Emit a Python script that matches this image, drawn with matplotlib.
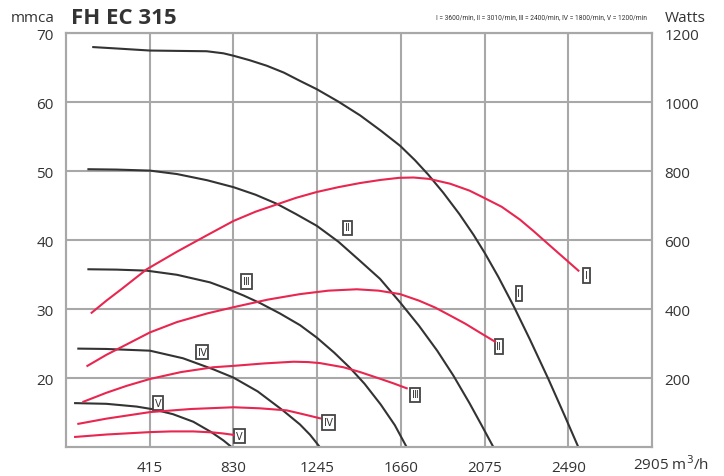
import matplotlib.pyplot as plt

plt.rcParams['font.family'] = ['Open Sans', 'DejaVu Sans']

# pressure curves (mmca) vs flow (m3/h)
p1_x = [135, 250, 416, 550, 697, 780, 830, 910, 995, 1080, 1160, 1243, 1350, 1458, 1560,
        1656, 1730, 1796, 1870, 1950, 2020, 2077, 2143, 2220, 2300, 2391, 2470, 2540]
p1_y = [68.0, 67.8, 67.5, 67.45, 67.4, 67.1, 66.75, 66.1, 65.3, 64.3, 63.1, 61.9, 60.1, 58.1, 55.9,
        53.7, 51.6, 49.5, 46.9, 43.8, 40.8, 38.1, 34.7, 30.4, 25.6, 19.9, 14.7, 10.0]
p2_x = [111, 250, 416, 550, 700, 830, 940, 1044, 1140, 1243, 1350, 1458, 1557, 1656, 1750,
        1840, 1920, 2000, 2060, 2119]
p2_y = [50.3, 50.25, 50.1, 49.6, 48.7, 47.7, 46.6, 45.3, 43.8, 42.1, 39.8, 37.0, 34.4, 31.0, 27.6,
        24.0, 20.4, 16.4, 13.2, 10.0]
p3_x = [111, 250, 400, 550, 714, 797, 880, 962, 1060, 1160, 1243, 1330, 1408, 1480, 1560, 1630, 1689]
p3_y = [35.8, 35.75, 35.6, 35.0, 33.9, 33.0, 32.0, 30.9, 29.4, 27.7, 25.9, 23.7, 21.5, 19.2, 16.2, 13.2, 10.0]
p4_x = [61, 200, 416, 580, 730, 830, 950, 1077, 1160, 1210, 1259]
p4_y = [24.3, 24.25, 24.0, 22.9, 21.3, 20.1, 18.1, 15.3, 13.3, 11.8, 10.0]
p5_x = [45, 200, 350, 433, 530, 631, 720, 780, 822]
p5_y = [16.4, 16.3, 15.9, 15.5, 14.8, 13.7, 12.2, 11.0, 10.0]

# power curves (Watts)
w1_x = [127, 200, 276, 400, 550, 700, 830, 940, 1045, 1140, 1243, 1350, 1458, 1560, 1650,
        1722, 1800, 1904, 2000, 2069, 2160, 2250, 2317, 2400, 2470, 2540]
w1_y = [390, 425, 459, 516, 567, 615, 656, 683, 704, 723, 740, 754, 766, 775, 781,
        782, 778, 764, 744, 724, 697, 660, 627, 584, 548, 512]
w2_x = [106, 200, 300, 416, 550, 700, 830, 1000, 1160, 1300, 1441, 1550, 1656, 1750, 1830,
        1904, 1980, 2050, 2127]
w2_y = [236, 268, 298, 333, 363, 388, 406, 428, 444, 454, 458, 454, 444, 425, 405,
        382, 358, 333, 306]
w3_x = [86, 200, 300, 416, 570, 730, 830, 980, 1127, 1200, 1259, 1375, 1458, 1540, 1620, 1689]
w3_y = [132, 158, 178, 198, 218, 232, 236, 243, 248, 247, 244, 232, 218, 202, 186, 171]
w4_x = [61, 200, 416, 620, 830, 960, 1094, 1160, 1210, 1259]
w4_y = [68, 83, 102, 111, 116, 113, 107, 98, 91, 84]
w5_x = [45, 200, 416, 520, 631, 730, 780, 830]
w5_y = [30, 37, 44, 46, 46, 43, 40, 36]

pressure = [(p1_x, p1_y), (p2_x, p2_y), (p3_x, p3_y), (p4_x, p4_y), (p5_x, p5_y)]
power = [(w1_x, w1_y), (w2_x, w2_y), (w3_x, w3_y), (w4_x, w4_y), (w5_x, w5_y)]

# speed labels
roman = ['Ⅰ', 'Ⅱ', 'Ⅲ', 'Ⅳ', 'Ⅴ']
plab_x = [2245, 1395, 895, 675, 455]
plab_y = [32.3, 41.8, 34.0, 23.8, 16.4]
wlab_x = [2580, 2145, 1730, 1300, 860]
wlab_y = [34.9, 24.6, 17.6, 13.6, 11.6]

xticks = [415, 830, 1245, 1660, 2075, 2490]
yticks = [20, 30, 40, 50, 60, 70]
wticks = [200, 400, 600, 800, 1000, 1200]

black = '#333333'
red = '#e8264f'
grid = '#a8a8a8'

fig = plt.figure(figsize=(7.24, 4.77), dpi=100)
ax = fig.add_axes([0.0912, 0.0602, 0.8094, 0.8679])
ax2 = ax.twinx()

for x, y in pressure:
    ax.plot(x, y, color=black, lw=1.5, zorder=3)
for x, y in power:
    ax2.plot(x, y, color=red, lw=1.5, zorder=3)

box = dict(boxstyle='square,pad=0.18', fc='white', ec='#444444', lw=1.3)
for t, x, y in zip(roman, plab_x, plab_y):
    ax.text(x, y, t, fontsize=7, ha='center', va='center', color='#333333', bbox=box, zorder=5)
for t, x, y in zip(roman, wlab_x, wlab_y):
    ax.text(x, y, t, fontsize=7, ha='center', va='center', color='#333333', bbox=box, zorder=5)

ax.set_xlim(0, 2905)
ax.set_ylim(10, 70)
ax2.set_ylim(0, 1200)
ax.set_xticks(xticks)
ax.set_yticks(yticks)
ax2.set_yticks(wticks)
ax.grid(True, color=grid, lw=1.5)
ax.set_axisbelow(True)
for a in (ax, ax2):
    for s in a.spines.values():
        s.set_color(grid)
        s.set_linewidth(1.5)
ax.tick_params(axis='both', length=0, labelsize=11, colors='#333333', pad=9)
ax.tick_params(axis='x', pad=9)
ax2.tick_params(axis='y', length=0, labelsize=11, colors='#333333', pad=9)

# last x label, "2905" centred on the right edge
ax.annotate('2905 m$^3$/h', xy=(1.0, -0.040), xycoords='axes fraction',
            xytext=(-14, 0), textcoords='offset points', fontsize=11,
            color='#333333', ha='left', va='center')

fig.text(0.076, 0.962, 'mmca', fontsize=11, color='#333333', ha='right', va='center')
fig.text(0.098, 0.962, 'FH EC 315', fontsize=16, fontweight='bold', color='#333333', ha='left', va='center')
fig.text(0.893, 0.962, 'I = 3600/min, II = 3010/min, Ⅲ = 2400/min, Ⅳ = 1800/min, V = 1200/min',
         fontsize=4.8, color='#333333', ha='right', va='center',
         family=['Liberation Sans Narrow', 'Roboto', 'DejaVu Sans'])
fig.text(0.918, 0.962, 'Watts', fontsize=11, color='#333333', ha='left', va='center')

fig.savefig('out.png', dpi=100)
